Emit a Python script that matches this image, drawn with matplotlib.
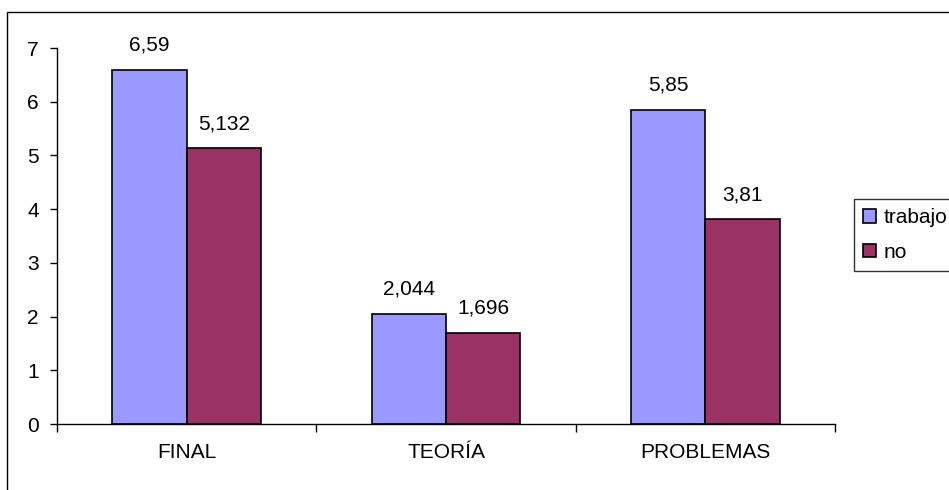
import matplotlib
matplotlib.use('Agg')
import matplotlib.pyplot as plt
import numpy as np
from matplotlib.patches import Patch, Rectangle

plt.rcParams['font.family'] = ['Liberation Sans', 'DejaVu Sans']

categories = ['FINAL', 'TEORÍA', 'PROBLEMAS']
trabajo = [6.59, 2.044, 5.85]
no = [5.132, 1.696, 3.81]
series_names = ['trabajo', 'no']
colors = ['#9999FF', '#993366']

W, H = 949, 490
fig = plt.figure(figsize=(W / 100, H / 100), dpi=100)
fig.patch.set_facecolor('white')

# outer chart border (runs off the right and bottom edges)
fig.add_artist(Rectangle((7 / W, -0.1), 1.2, 1.1 - 12 / H + 0.0, transform=fig.transFigure,
                         fill=False, edgecolor='black', linewidth=1))

ax = fig.add_axes([57 / W, 1 - 424 / H, (835 - 57) / W, (424 - 48) / H])

x = np.arange(len(categories))
bw = 0.286
fs = 15
for i, (vals, name) in enumerate(zip([trabajo, no], series_names)):
    xs = x - bw / 2 + i * bw
    ax.bar(xs, vals, width=bw, color=colors[i], edgecolor='black', linewidth=1.2, label=name)
    for xi, v in zip(xs, vals):
        ax.annotate(f'{v:g}'.replace('.', ','), (xi, v), xytext=(0, 11),
                    textcoords='offset points', ha='center', va='bottom', fontsize=fs)

ax.set_xlim(-0.5, 2.5)
ax.set_ylim(0, 7)
ax.set_yticks(range(0, 8))
ax.tick_params(axis='y', direction='out', length=5, width=1, labelsize=fs, pad=8)
ax.set_xticks([-0.5, 0.5, 1.5, 2.5])
ax.set_xticklabels([])
ax.tick_params(axis='x', which='major', direction='out', length=6, width=1)
ax.set_xticks(x, minor=True)
ax.set_xticklabels(categories, minor=True, fontsize=fs)
ax.tick_params(axis='x', which='minor', length=0, pad=14)

for s in ['top', 'right']:
    ax.spines[s].set_visible(False)
for s in ['left', 'bottom']:
    ax.spines[s].set_linewidth(1)
    ax.spines[s].set_color('black')

handles = [Patch(facecolor=c, edgecolor='black', linewidth=1.2) for c in colors]
leg = fig.legend(handles, series_names, loc='upper left',
                 bbox_to_anchor=(854 / W, 1 - 199 / H), fontsize=fs,
                 frameon=True, fancybox=False, borderpad=0.45, labelspacing=0.75,
                 handlelength=0.6, handleheight=0.6, handletextpad=0.35,
                 borderaxespad=0)
leg.get_frame().set_edgecolor('black')
leg.get_frame().set_linewidth(1)

fig.savefig('out.png', dpi=100)
